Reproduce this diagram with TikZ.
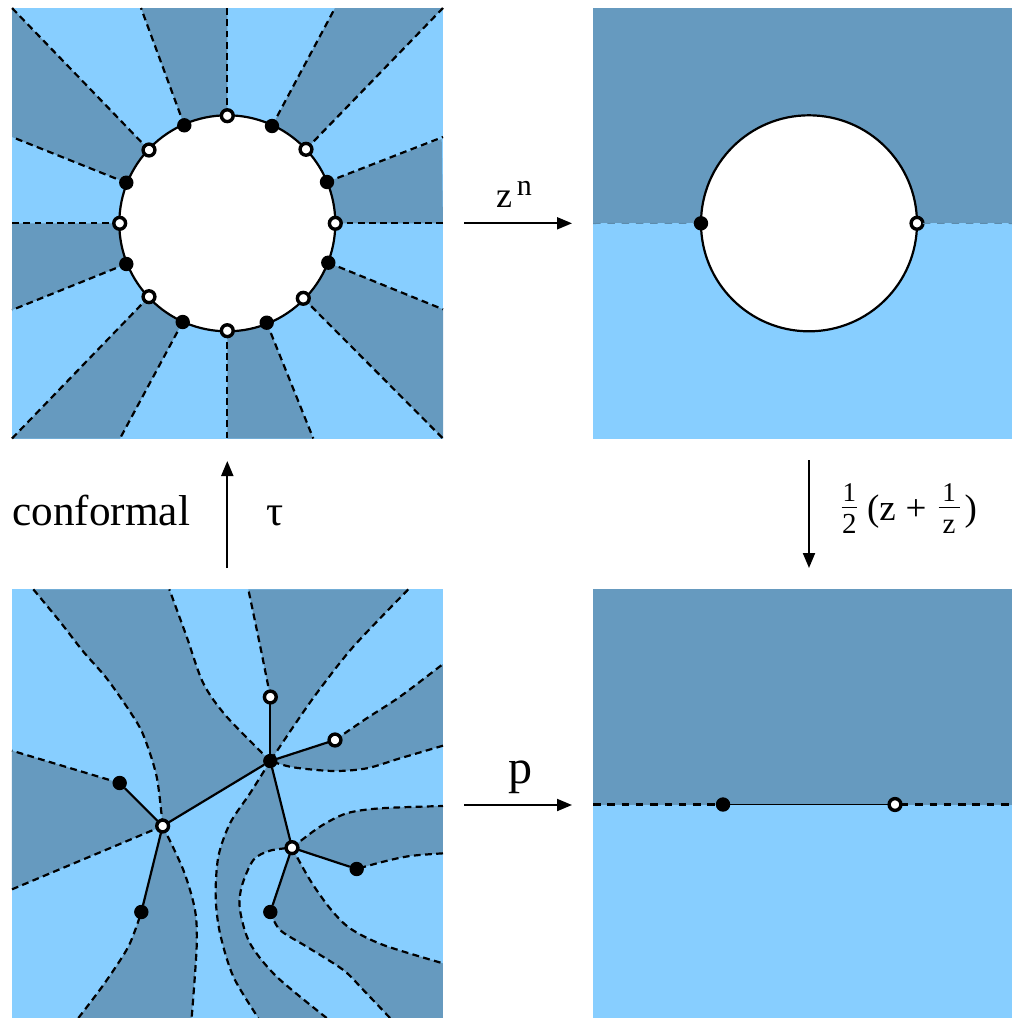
\documentclass[tikz,border=0pt]{standalone}
\usepackage{fontspec}
\setmainfont{Liberation Serif}
\usetikzlibrary{arrows.meta}
\definecolor{lightreg}{HTML}{87CEFF}
\definecolor{darkreg}{HTML}{669ABF}
\tikzset{
  dsh/.style={line width=2.2pt,dash pattern=on 6.8pt off 4.4pt},
  dshwide/.style={line width=2.3pt,dash pattern=on 7.5pt off 6.8pt},
  solidline/.style={line width=2.2pt},
  wdot/.style={circle,draw=black,fill=white,line width=3.4pt,minimum size=11.8pt,inner sep=0pt,outer sep=0pt},
  bdot/.style={circle,fill=black,minimum size=14.4pt,inner sep=0pt,outer sep=0pt},
  maparrow/.style={line width=2pt,-{Triangle[length=15pt,width=12pt]}},
  lab/.style={inner sep=0pt,outer sep=0pt,anchor=base}
}
\newcommand\myfrac[3]{\raisebox{-13pt}{\vbox{\offinterlineskip\halign{\hfil##\hfil\cr
 \fontsize{27}{27}\selectfont\rule[-5pt]{0pt}{18pt}#1\cr
 \noalign{\hrule height 1.4pt}
 \rule{#3}{0pt}\cr
 \fontsize{29}{29}\selectfont\rule{0pt}{25pt}#2\cr}}}}
\begin{document}
\begin{tikzpicture}[x=1pt,y=-1pt]
\useasboundingbox (0,0) rectangle (1012,1018);
% ---------- top left ----------
\fill[lightreg] (12,8) rectangle (443,438.5);
\foreach \n/\x/\y in {1/227.3/115.7,2/272/126,3/306/149.3,4/327/182,5/335.3/223.3,6/328.3/262.7,7/303.3/298.3,8/266.7/322.7,9/227.3/330.7,10/182.7/322,11/149/296.7,12/126.3/264,13/119.7/223.3,14/126.3/182.7,15/149/150,16/184.3/125.3}
  {\coordinate (v\n) at (\x,\y);}
\foreach \n/\x/\y in {1/227.3/8,2/335/8,3/443/8,4/443/137,5/443/223.3,6/443/309.3,7/443/438.5,8/313.3/438.5,9/227.3/438.5,10/120/438.5,11/12/438.5,12/12/310,13/12/223.3,14/12/137,15/12/8,16/141/8}
  {\coordinate (t\n) at (\x,\y);}
\fill[darkreg] (v16) -- (t16) -- (t1) -- (v1) -- cycle;
\fill[darkreg] (v2) -- (t2) -- (t3) -- (v3) -- cycle;
\fill[darkreg] (v4) -- (441.7,139) -- (t5) -- (v5) -- cycle;
\fill[darkreg] (v6) -- (t6) -- (t7) -- (v7) -- cycle;
\fill[darkreg] (v8) -- (t8) -- (t9) -- (v9) -- cycle;
\fill[darkreg] (v10) -- (t10) -- (t11) -- (v11) -- cycle;
\fill[darkreg] (v12) -- (t12) -- (t13) -- (v13) -- cycle;
\fill[darkreg] (v14) -- (t14) -- (t15) -- (v15) -- cycle;
\foreach \n in {1,...,16} {\draw[dsh] (v\n) -- (t\n);}
\node[circle,draw=black,fill=white,solidline,minimum size=216pt,inner sep=0pt] (ringA) at (227.3,223.3) {};
\foreach \n in {1,3,5,7,9,11,13,15} {\node[wdot] (n\n) at (v\n) {};}
\foreach \n in {2,4,6,8,10,12,14,16} {\node[bdot] (n\n) at (v\n) {};}
% ---------- top right ----------
\fill[darkreg] (593,8) rectangle (1012,223.3);
\fill[lightreg] (593,223.3) rectangle (1012,438.5);
\coordinate (trL) at (593,223.5);
\coordinate (trR) at (1012,223.5);
\node[circle,draw=black,fill=white,solidline,minimum size=216pt,inner sep=0pt] (ringB) at (809,223.3) {};
\node[bdot] (trb) at (701,223.3) {};
\node[wdot] (trw) at (917,223.3) {};
\draw[line width=1pt,draw=darkreg!90!black,dash pattern=on 7.5pt off 6.8pt] (trL) -- (trb);
\draw[line width=1pt,draw=darkreg!90!black,dash pattern=on 7.5pt off 6.8pt] (trw) -- (trR);
% ---------- bottom right ----------
\fill[darkreg] (593,589) rectangle (1012,805);
\fill[lightreg] (593,805) rectangle (1012,1018);
\coordinate (brL) at (593,804.5);
\coordinate (brR) at (1012,804.5);
\node[bdot] (brb) at (723,804.5) {};
\node[wdot] (brw) at (895,804.5) {};
\draw[dshwide] (brL) -- (brb);
\draw[dshwide] (brw) -- (brR);
\draw[line width=1.9pt] (brb) -- (brw);
% ---------- bottom left ----------
\begin{scope}[x=0.33333pt,y=-0.33333pt,yshift=-580pt]
\fill[lightreg] (36,28) rectangle (1329,1314);
\coordinate (W1) at (488,738);
\coordinate (B1) at (811,543);
\coordinate (W2) at (811,351);
\coordinate (W3) at (1005,480);
\coordinate (W4) at (876,803);
\coordinate (B2) at (359,609);
\coordinate (B3) at (424,996);
\coordinate (B4) at (1070,867);
\coordinate (B5) at (811,996);
\coordinate (e1) at (100,28);
\coordinate (e3) at (745,28);
\coordinate (e5) at (1329,252);
\coordinate (e6) at (1329,497);
\coordinate (e7) at (775,1314);
\coordinate (e8) at (980,1314);
\coordinate (e9) at (1329,678);
\coordinate (e10) at (1329,820);
\coordinate (e11) at (1329,1150);
\coordinate (e12) at (1170,1314);
\coordinate (e13) at (575,1314);
\coordinate (e14) at (235,1314);
\coordinate (e15) at (36,928);
\coordinate (e16) at (36,512);
\coordinate (cnr) at (1329,1314);
\def\curveA{-- plot[smooth] coordinates {(e1) (180,125) (250,215) (320,295) (390,395) (430,465) (470,590) (W1)}}
\def\curveB{-- plot[smooth] coordinates {(B1) (680,410) (610,310) (560,170) (508,28)}}
\def\curveC{-- plot[smooth] coordinates {(W2) (785,220) (e3)}}
\def\curveD{-- plot[smooth] coordinates {(1225,28) (1060,200) (950,340) (880,440) (B1)}}
\def\curveE{-- plot[smooth] coordinates {(W3) (1100,415) (1200,350) (e5)}}
\def\curveF{-- plot[smooth] coordinates {(e6) (1200,535) (1100,565) (1000,573) (880,562) (B1)}}
\def\curveG{-- plot[smooth] coordinates {(B1) (750,640) (690,730) (655,830) (647,950) (660,1060) (700,1190) (e7)}}
\def\curveH{-- plot[smooth] coordinates {(e8) (830,1190) (750,1090) (720,990) (725,920) (760,840) (810,812) (W4)}}
\def\curveI{-- plot[smooth] coordinates {(W4) (960,740) (1040,700) (1140,685) (e9)}}
\def\curveJ{-- plot[smooth] coordinates {(e10) (1230,828) (1150,845) (B4)}}
\def\curveK{-- plot[smooth] coordinates {(W4) (930,900) (990,985) (1050,1045) (1150,1095) (e11)}}
\def\curveL{-- plot[smooth] coordinates {(e12) (1090,1230) (1030,1170) (920,1100) (840,1050) (B5)}}
\def\curveM{-- plot[smooth] coordinates {(W1) (550,870) (585,990) (590,1100) (e13)}}
\def\curveN{-- plot[smooth] coordinates {(e14) (310,1215) (385,1100) (B3)}}
\begin{scope}
\clip (36,28) rectangle (1329,1314);
\fill[darkreg] (e1) \curveA -- (B1) \curveB -- cycle;
\fill[darkreg] (W2) \curveC -- (1225,28) \curveD -- cycle;
\fill[darkreg] (W3) \curveE -- (e6) \curveF -- cycle;
\fill[darkreg] (B1) \curveG -- (e8) \curveH -- cycle;
\fill[darkreg] (W4) \curveI -- (e10) \curveJ -- cycle;
\fill[darkreg] (W4) \curveK -- (cnr) -- (e12) \curveL -- cycle;
\fill[darkreg] (W1) \curveM -- (e14) \curveN -- cycle;
\fill[darkreg] (W1) -- (e15) -- (e16) -- (B2) -- cycle;
\end{scope}
\draw[dsh] (e1) \curveA;
\draw[dsh] (B1) \curveB;
\draw[dsh] (W2) \curveC;
\draw[dsh] (1225,28) \curveD;
\draw[dsh] (W3) \curveE;
\draw[dsh] (e6) \curveF;
\draw[dsh] (B1) \curveG;
\draw[dsh] (e8) \curveH;
\draw[dsh] (W4) \curveI;
\draw[dsh] (e10) \curveJ;
\draw[dsh] (W4) \curveK;
\draw[dsh] (e12) \curveL;
\draw[dsh] (W1) \curveM;
\draw[dsh] (e14) \curveN;
\draw[dsh] (W1) -- (e15);
\draw[dsh] (B2) -- (e16);
\node[wdot] (nW1) at (W1) {};
\node[bdot] (nB1) at (B1) {};
\node[wdot] (nW2) at (W2) {};
\node[wdot] (nW3) at (W3) {};
\node[wdot] (nW4) at (W4) {};
\node[bdot] (nB2) at (B2) {};
\node[bdot] (nB3) at (B3) {};
\node[bdot] (nB4) at (B4) {};
\node[bdot] (nB5) at (B5) {};
\draw[solidline] (nW1) -- (nB2);
\draw[solidline] (nW1) -- (nB3);
\draw[solidline] (nW1) -- (nB1);
\draw[solidline] (nB1) -- (nW2);
\draw[solidline] (nB1) -- (nW3);
\draw[solidline] (nB1) -- (nW4);
\draw[solidline] (nW4) -- (nB4);
\draw[solidline] (nW4) -- (nB5);
\end{scope}
% ---------- arrows ----------
\coordinate (a1s) at (464,223.3); \coordinate (a1e) at (572,223.3);
\coordinate (a2s) at (464,805); \coordinate (a2e) at (572,805);
\coordinate (a3s) at (227.3,568); \coordinate (a3e) at (227.3,461);
\coordinate (a4s) at (809,460); \coordinate (a4e) at (809,568);
\draw[maparrow] (a1s) -- (a1e);
\draw[maparrow] (a2s) -- (a2e);
\draw[maparrow] (a3s) -- (a3e);
\draw[maparrow] (a4s) -- (a4e);
% ---------- labels ----------
\node[lab,anchor=base west] (lconf) at (12.5,525) {\fontsize{43.2}{43.2}\selectfont conformal};
\node[lab] (ltau) at (275,525) {\fontsize{42.6}{42.6}\selectfont τ};
\node[lab,anchor=base west] (lzn) at (496,207) {\fontsize{36}{36}\selectfont z\hspace{5pt}\raisebox{12pt}{\fontsize{30}{30}\selectfont n}};
\node[lab] (lp) at (520,783) {\fontsize{48}{48}\selectfont p};
\node[lab,anchor=base west] (lfrac) at (841.5,520) {\fontsize{37}{37}\selectfont \myfrac{1}{2}{15.5pt}\hspace{10pt}(z\hspace{10pt}+\hspace{12pt}\myfrac{1}{z}{21pt}\hspace{5pt})};
\end{tikzpicture}
\end{document}
